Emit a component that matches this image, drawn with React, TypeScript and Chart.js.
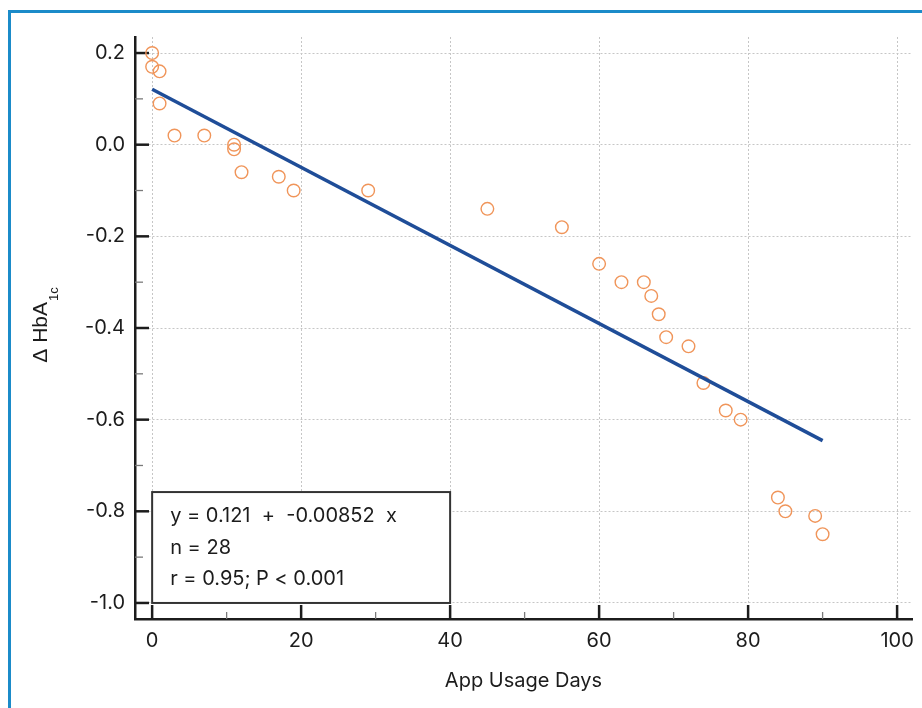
import React, { useEffect, useRef } from 'react';
import { Chart, registerables } from 'chart.js';

Chart.register(...registerables);

// ---- data ----
const days = [0, 0, 1, 1, 3, 7, 11, 11, 12, 17, 19, 29, 45, 55, 60, 63, 66, 67, 68, 69, 72, 74, 77, 79, 84, 85, 89, 90];
const deltaHbA1c = [0.2, 0.17, 0.16, 0.09, 0.02, 0.02, 0.0, -0.01, -0.06, -0.07, -0.1, -0.1, -0.14, -0.18, -0.26, -0.3, -0.3, -0.33, -0.37, -0.42, -0.44, -0.52, -0.58, -0.6, -0.77, -0.8, -0.81, -0.85];
const fitIntercept = 0.121;
const fitSlope = -0.00852;
const fitRange = [0, 90];
const xTicks = [0, 20, 40, 60, 80, 100];
const xMinorTicks = [10, 30, 50, 70, 90];
const yTicks = [0.2, 0.0, -0.2, -0.4, -0.6, -0.8, -1.0];
const yMinorTicks = [0.1, -0.1, -0.3, -0.5, -0.7, -0.9];
const statsLines = ['y = 0.121  +  -0.00852  x', 'n = 28', 'r = 0.95; P < 0.001'];
const statsBoxX = [0, 40];
const statsBoxY = [-1.0, -0.758];
const xTitle = 'App Usage Days';
const yTitleMain = 'Δ HbA';
const yTitleSub = '1c';

const TEXT = '#1c1c1c';
const FONT = 'Inter';

const overlayPlugin = {
  id: 'overlay',
  beforeDatasetsDraw(chart: any) {
    const { ctx, chartArea, scales } = chart;
    const xs = scales.x;
    const ys = scales.y;
    ctx.save();
    // stats box
    const bx1 = xs.getPixelForValue(statsBoxX[0]);
    const bx2 = xs.getPixelForValue(statsBoxX[1]);
    const by1 = ys.getPixelForValue(statsBoxY[1]);
    const by2 = ys.getPixelForValue(statsBoxY[0]);
    ctx.fillStyle = '#ffffff';
    ctx.fillRect(bx1, by1, bx2 - bx1, by2 - by1);
    ctx.strokeStyle = '#333333';
    ctx.lineWidth = 2;
    ctx.strokeRect(bx1, by1, bx2 - bx1, by2 - by1);
    ctx.fillStyle = TEXT;
    ctx.font = `20px ${FONT}`;
    ctx.textAlign = 'left';
    ctx.textBaseline = 'alphabetic';
    statsLines.forEach((line, i) => {
      ctx.fillText(line, bx1 + 18, by1 + 30 + i * 31.7);
    });

    // inward ticks
    const left = chartArea.left;
    const bottom = chartArea.bottom;
    ctx.lineCap = 'butt';
    ctx.strokeStyle = '#1c1c1c';
    ctx.lineWidth = 2.5;
    yTicks.forEach((v) => {
      const p = ys.getPixelForValue(v);
      ctx.beginPath();
      ctx.moveTo(left, p);
      ctx.lineTo(left + 14, p);
      ctx.stroke();
    });
    xTicks.forEach((v) => {
      const p = xs.getPixelForValue(v);
      ctx.beginPath();
      ctx.moveTo(p, bottom);
      ctx.lineTo(p, bottom - 14);
      ctx.stroke();
    });
    ctx.strokeStyle = '#7a7a7a';
    ctx.lineWidth = 1.3;
    yMinorTicks.forEach((v) => {
      const p = ys.getPixelForValue(v);
      ctx.beginPath();
      ctx.moveTo(left, p);
      ctx.lineTo(left + 8, p);
      ctx.stroke();
    });
    xMinorTicks.forEach((v) => {
      const p = xs.getPixelForValue(v);
      ctx.beginPath();
      ctx.moveTo(p, bottom);
      ctx.lineTo(p, bottom - 7);
      ctx.stroke();
    });
    ctx.restore();
  },
  afterDraw(chart: any) {
    const { ctx, chartArea } = chart;
    ctx.save();
    const cy = (chartArea.top + chartArea.bottom) / 2 - 3;
    ctx.translate(47, cy);
    ctx.rotate(-Math.PI / 2);
    ctx.fillStyle = TEXT;
    ctx.textBaseline = 'alphabetic';
    ctx.textAlign = 'left';
    ctx.font = '21px "Liberation Sans"';
    const w1 = ctx.measureText(yTitleMain).width;
    ctx.font = '13px "Liberation Sans"';
    const w2 = ctx.measureText(yTitleSub).width;
    const start = -(w1 + w2 + 1) / 2;
    ctx.font = '21px "Liberation Sans"';
    ctx.fillText(yTitleMain, start, 0);
    ctx.font = '13px "Liberation Sans"';
    ctx.fillText(yTitleSub, start + w1 + 1, 11);
    ctx.restore();
  },
};

export default function App() {
  const canvasRef = useRef<HTMLCanvasElement | null>(null);

  useEffect(() => {
    if (!canvasRef.current) return;
    const points = days.map((d, i) => ({ x: d, y: deltaHbA1c[i] }));
    const fitPoints = fitRange.map((x) => ({ x, y: fitIntercept + fitSlope * x }));
    const chart = new Chart(canvasRef.current, {
      type: 'scatter',
      data: {
        datasets: [
          {
            type: 'line',
            label: 'fit',
            data: fitPoints,
            borderColor: '#1f4d98',
            borderWidth: 3.5,
            pointRadius: 0,
            fill: false,
            order: 0,
          } as any,
          {
            label: 'data',
            data: points,
            pointStyle: 'circle',
            pointRadius: 6.3,
            pointHoverRadius: 6.3,
            pointBorderWidth: 1.4,
            borderColor: '#f0955a',
            backgroundColor: 'rgba(255,255,255,0)',
            order: 1,
          } as any,
        ],
      },
      options: {
        animation: false,
        responsive: false,
        maintainAspectRatio: false,
        layout: { padding: { left: 0, top: 37, right: 10, bottom: 0 } },
        plugins: {
          legend: { display: false },
          tooltip: { enabled: false },
          title: { display: false },
        },
        scales: {
          x: {
            type: 'linear',
            min: -2.3,
            max: 102,
            afterBuildTicks: (s: any) => {
              s.ticks = xTicks.map((v) => ({ value: v }));
            },
            afterFit: (s: any) => {
              s.height = 89;
              s.paddingLeft = 0;
              s.paddingRight = 0;
            },
            grid: { color: '#c6c6c6', lineWidth: 1, drawTicks: false },
            border: { display: true, color: '#1c1c1c', width: 2.5, dash: [2, 2] },
            ticks: {
              font: { family: FONT, size: 20 },
              color: TEXT,
              padding: 10,
              maxRotation: 0,
              autoSkip: false,
            },
            title: {
              display: true,
              text: xTitle,
              font: { family: FONT, size: 20 },
              color: TEXT,
              padding: { top: 0, bottom: 15 },
            },
          },
          y: {
            type: 'linear',
            min: -1.035,
            max: 0.235,
            afterBuildTicks: (s: any) => {
              s.ticks = yTicks.map((v) => ({ value: v }));
            },
            afterFit: (s: any) => {
              s.width = 135;
              s.paddingTop = 0;
              s.paddingBottom = 0;
            },
            grid: { color: '#c6c6c6', lineWidth: 1, drawTicks: false },
            border: { display: true, color: '#1c1c1c', width: 2.5, dash: [2, 2] },
            ticks: {
              font: { family: FONT, size: 20 },
              color: TEXT,
              padding: 10,
              autoSkip: false,
              callback: (v: any) => Number(v).toFixed(1),
            },
          },
        },
      },
      plugins: [overlayPlugin],
    });
    return () => chart.destroy();
  }, []);

  return (
    <div style={{ position: 'fixed', left: 0, top: 0, width: 922, height: 708, background: '#ffffff', overflow: 'hidden' }}>
      <div
        style={{
          position: 'absolute',
          left: 8,
          top: 10,
          width: 940,
          height: 720,
          borderTop: '3px solid #1b8bc9',
          borderLeft: '3px solid #1b8bc9',
          boxSizing: 'border-box',
        }}
      />
      <canvas ref={canvasRef} width={922} height={708} style={{ position: 'absolute', left: 0, top: 0, display: 'block' }} />
    </div>
  );
}
